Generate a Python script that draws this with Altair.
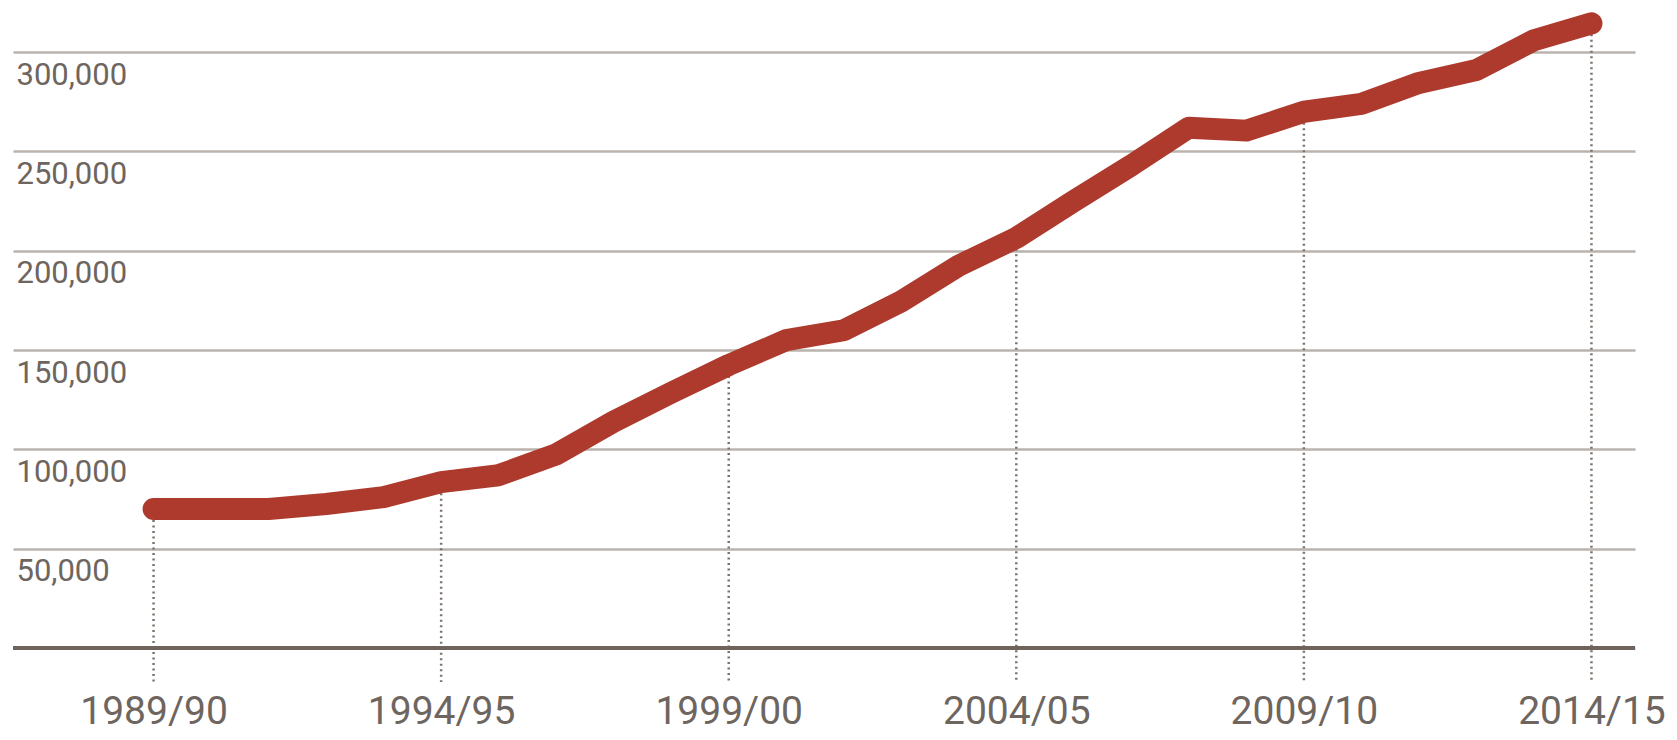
import altair as alt
import pandas as pd

years = ["1989/90", "1990/91", "1991/92", "1992/93", "1993/94", "1994/95",
         "1995/96", "1996/97", "1997/98", "1998/99", "1999/00", "2000/01",
         "2001/02", "2002/03", "2003/04", "2004/05", "2005/06", "2006/07",
         "2007/08", "2008/09", "2009/10", "2010/11", "2011/12", "2012/13",
         "2013/14", "2014/15"]
values = [70000, 70000, 70000, 72500, 76000, 83500,
          87000, 97500, 114000, 128500, 142500, 155000,
          160000, 174500, 192500, 206500, 225000, 243000,
          262000, 260500, 270000, 274000, 284500, 291000,
          306000, 314500]
tick_years = ["1989/90", "1994/95", "1999/00", "2004/05", "2009/10", "2014/15"]
y_ticks = [0, 50000, 100000, 150000, 200000, 250000, 300000]

df = pd.DataFrame({"idx": list(range(len(years))), "year": years, "value": values})
tick_idx = [years.index(t) for t in tick_years]
ticks_df = df[df["year"].isin(tick_years)]

W, H = 1622, 674
Y_MIN, Y_MAX = -17120, 322240
xscale = alt.Scale(domain=[-2.444, 25.757], nice=False, zero=False)
yscale = alt.Scale(domain=[Y_MIN, Y_MAX], nice=False, zero=False)

FONT = "Roboto"
LABEL_COLOR = "#6e655f"

label_array = "[" + ",".join("'" + y + "'" for y in years) + "]"

x_axis = alt.Axis(values=tick_idx, labelExpr=label_array + "[datum.value]",
                  grid=False, domain=False, ticks=False, title=None,
                  labelFont=FONT, labelFontSize=39, labelColor=LABEL_COLOR,
                  labelBaseline="middle", labelPadding=29, labelFlush=False,
                  labelOverlap=False)
y_axis = alt.Axis(values=y_ticks,
                  labelExpr="datum.value == 0 ? '' : format(datum.value, ',')",
                  grid=True, gridColor="#bab3ad", gridWidth=2.5,
                  domain=False, ticks=False, title=None,
                  labelFont=FONT, labelFontSize=31, labelColor=LABEL_COLOR,
                  labelAlign="left", labelBaseline="middle",
                  labelPadding=-3, labelOffset=23, labelFlush=False,
                  labelOverlap=False)

dots = alt.Chart(ticks_df).mark_rule(
    color="#7d736c", strokeWidth=2.5, strokeDash=[2, 3.5]
).encode(
    x=alt.X("idx:Q", scale=xscale, axis=x_axis),
    y=alt.Y("value:Q", scale=yscale, axis=y_axis),
    y2=alt.datum(Y_MIN),
)

baseline = alt.Chart(df).mark_rule(color="#6e645d", strokeWidth=3).encode(
    y=alt.YDatum(0, scale=yscale, axis=y_axis)
)

line = alt.Chart(df).mark_line(
    color="#ae3a2d", strokeWidth=22, strokeCap="round", strokeJoin="round"
).encode(
    x=alt.X("idx:Q", scale=xscale, axis=x_axis),
    y=alt.Y("value:Q", scale=yscale, axis=y_axis),
)

chart = alt.layer(dots, baseline, line).properties(
    width=W, height=H,
    autosize=alt.AutoSizeParams(type="none"),
    padding={"left": 5, "top": 0, "right": 34, "bottom": 50},
    background="white",
).configure_view(stroke=None)

chart.save("out.html", embed_options={"renderer": "svg", "actions": False})
